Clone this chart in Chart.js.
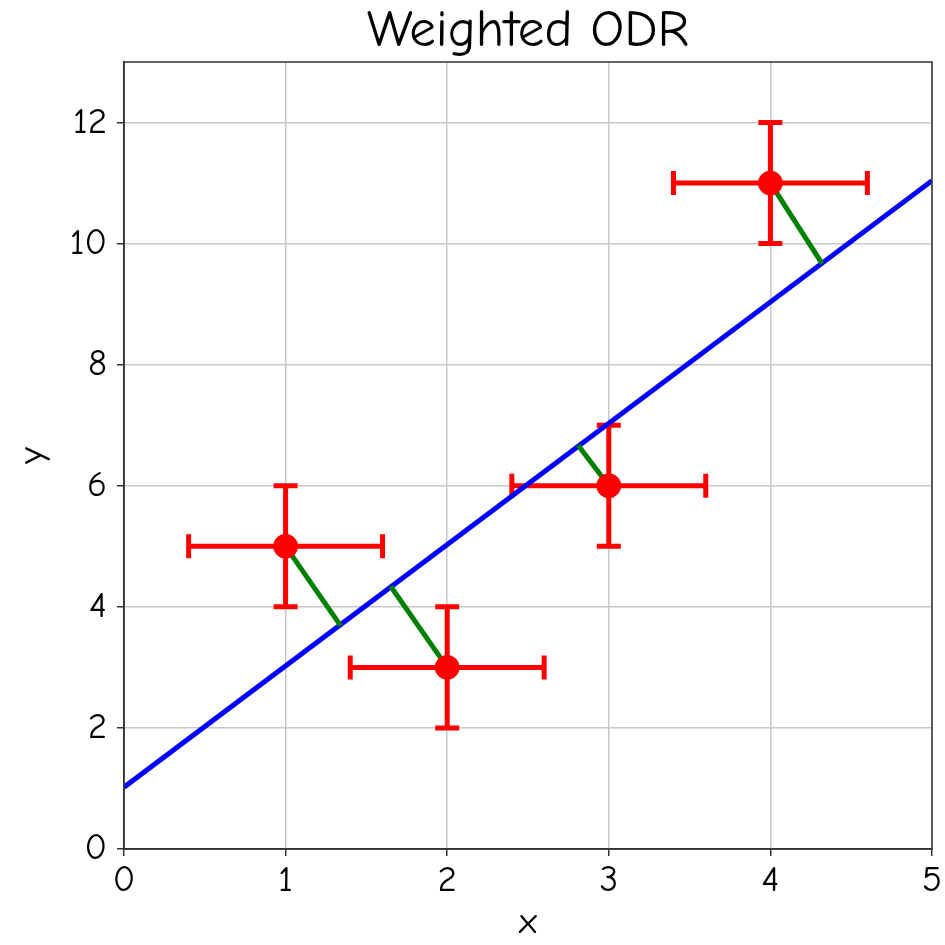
<!DOCTYPE html>
<html>
<head>
<meta charset="utf-8">
<script src="https://cdn.jsdelivr.net/npm/chart.js@4.4.0/dist/chart.umd.min.js"></script>
<style>
  html, body { margin: 0; padding: 0; background: #fff; }
  #wrap { width: 945px; height: 945px; }
</style>
</head>
<body>
<div id="wrap"><canvas id="chart" width="945" height="945"></canvas></div>
<script>
// data
const pointsX = [1, 2, 3, 4];
const pointsY = [5, 3, 6, 11];
const xErr = [0.6, 0.6, 0.6, 0.6];
const yErr = [1, 1, 1, 1];

// fitted line end points
const fitX = [0, 5];
const fitY = [1.02, 11.04];

// foot of each orthogonal distance on the fitted line
const footX = [1.34, 1.65, 2.81, 4.32];
const footY = [3.69, 4.34, 6.67, 9.67];

const xTicks = [0, 1, 2, 3, 4, 5];
const yTicks = [0, 2, 4, 6, 8, 10, 12];

const TITLE = 'Weighted ODR';
const FONT = '"Comic Sans MS", "Comic Neue", "Open Sans", sans-serif';

const pts = pointsX.map((x, i) => ({ x: x, y: pointsY[i] }));
const fitLine = fitX.map((x, i) => ({ x: x, y: fitY[i] }));

// green segments, one dataset each
const segments = pointsX.map((x, i) => ({
    type: 'line',
    data: [{ x: x, y: pointsY[i] }, { x: footX[i], y: footY[i] }],
    borderColor: 'green',
    borderWidth: 5,
    pointRadius: 0,
    fill: false,
    order: 2
}));

// error bars drawn under the datasets
const errorBars = {
    id: 'errorBars',
    beforeDatasetsDraw(chart) {
        const ctx = chart.ctx;
        const xs = chart.scales.x, ys = chart.scales.y;
        const cap = 12;
        ctx.save();
        ctx.strokeStyle = 'red';
        ctx.lineWidth = 5;
        pointsX.forEach((x, i) => {
            const y = pointsY[i];
            const px = xs.getPixelForValue(x), py = ys.getPixelForValue(y);
            const x0 = xs.getPixelForValue(x - xErr[i]), x1 = xs.getPixelForValue(x + xErr[i]);
            const y0 = ys.getPixelForValue(y - yErr[i]), y1 = ys.getPixelForValue(y + yErr[i]);
            ctx.beginPath();
            ctx.moveTo(x0, py); ctx.lineTo(x1, py);
            ctx.moveTo(px, y0); ctx.lineTo(px, y1);
            ctx.moveTo(x0, py - cap); ctx.lineTo(x0, py + cap);
            ctx.moveTo(x1, py - cap); ctx.lineTo(x1, py + cap);
            ctx.moveTo(px - cap, y0); ctx.lineTo(px + cap, y0);
            ctx.moveTo(px - cap, y1); ctx.lineTo(px + cap, y1);
            ctx.stroke();
        });
        ctx.restore();
    }
};

// box around the plot area, and the title centred over it
const frame = {
    id: 'frame',
    afterDraw(chart) {
        const a = chart.chartArea, ctx = chart.ctx;
        ctx.save();
        ctx.strokeStyle = '#333';
        ctx.lineWidth = 1.5;
        ctx.strokeRect(a.left, a.top, a.right - a.left, a.bottom - a.top);
        ctx.fillStyle = '#000';
        ctx.font = '53px ' + FONT;
        ctx.textAlign = 'center';
        ctx.textBaseline = 'alphabetic';
        ctx.fillText(TITLE, (a.left + a.right) / 2, 46);
        ctx.restore();
    }
};

new Chart(document.getElementById('chart'), {
    type: 'scatter',
    data: {
        datasets: [
            {
                data: pts,
                backgroundColor: 'red',
                borderColor: 'red',
                pointRadius: 12,
                pointHoverRadius: 12,
                order: 1
            },
            ...segments,
            {
                type: 'line',
                data: fitLine,
                borderColor: 'blue',
                borderWidth: 5,
                pointRadius: 0,
                fill: false,
                order: 3
            }
        ]
    },
    options: {
        responsive: false,
        animation: false,
        layout: { padding: { top: 62, right: 13, left: 0, bottom: 0 } },
        plugins: {
            legend: { display: false },
            tooltip: { enabled: false },
            title: { display: false }
        },
        scales: {
            x: {
                type: 'linear',
                min: 0,
                max: 5,
                afterBuildTicks: s => { s.ticks = xTicks.map(v => ({ value: v })); },
                afterFit: s => { s.height = 96; },
                ticks: { color: '#000', font: { family: FONT, size: 37 }, padding: 2, maxRotation: 0 },
                grid: { color: '#c8c8c8', lineWidth: 1.5, tickColor: '#333', tickLength: 7 },
                border: { color: '#333', width: 1.5 },
                title: { display: true, text: 'x', color: '#000', font: { family: FONT, size: 37 }, padding: { top: 0, bottom: 0 } }
            },
            y: {
                type: 'linear',
                min: 0,
                max: 13,
                afterBuildTicks: s => { s.ticks = yTicks.map(v => ({ value: v })); },
                afterFit: s => { s.width = 124; },
                ticks: { color: '#000', font: { family: FONT, size: 37 }, padding: 10 },
                grid: { color: '#c8c8c8', lineWidth: 1.5, tickColor: '#333', tickLength: 7 },
                border: { color: '#333', width: 1.5 },
                title: { display: true, text: 'y', color: '#000', font: { family: FONT, size: 37 }, padding: { top: 10, bottom: 0 } }
            }
        }
    },
    plugins: [errorBars, frame]
});
</script>
</body>
</html>
